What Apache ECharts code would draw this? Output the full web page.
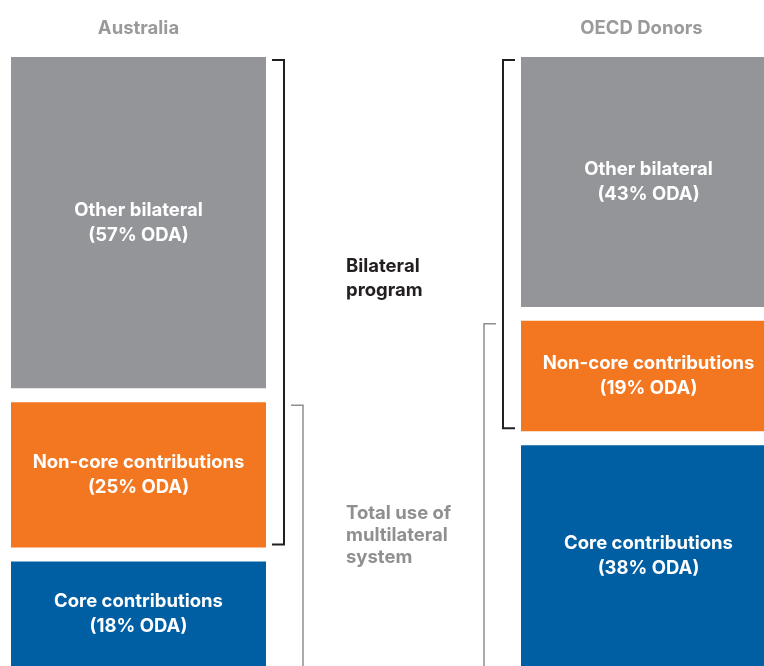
<!DOCTYPE html>
<html>
<head>
<meta charset="utf-8">
<script src="https://cdn.jsdelivr.net/npm/echarts@6/dist/echarts.min.js"></script>
<style>
  html, body { margin: 0; padding: 0; background: #fff; }
  #chart { width: 764px; height: 666px; }
</style>
</head>
<body>
<div id="chart"></div>
<script>
// 数据
const columns = ['Australia', '', 'OECD Donors'];
const segments = ['Other bilateral', 'Non-core contributions', 'Core contributions'];
const australiaShare = [57, 25, 18];
const oecdShare = [43, 19, 38];
const segColors = ['#939598', '#f37721', '#005ea2'];

const GAP = 2.4; // 段与段之间的白色间隔（按百分比单位）
const FONT = 'Inter, "Liberation Sans", Arial, sans-serif';
const FS = 18.5;

// 逐段累加，得到每段的起止位置
function buildStack(colIdx, shares) {
    let pos = 0;
    return shares.map((v, i) => {
        const item = [colIdx, pos, pos + v, v, i];
        pos += v + GAP;
        return item;
    });
}

const ausStack = buildStack(0, australiaShare);
const oecdStack = buildStack(2, oecdShare);

// 括号：[列, 起点, 终点, 类型 0=bilateral 1=multilateral]
const bracketData = [
    [0, ausStack[0][1], ausStack[1][2], 0],
    [2, oecdStack[0][1], oecdStack[1][2], 0],
    [0, ausStack[1][1], ausStack[2][2], 1],
    [2, oecdStack[1][1], oecdStack[2][2], 1]
];

const chart = echarts.init(document.getElementById('chart'));

function renderSegment(params, api) {
    const col = api.value(0);
    const band = api.size([1, 0])[0];
    const cx = api.coord([col, 0])[0];
    const y0 = api.coord([col, api.value(1)])[1];
    const y1 = api.coord([col, api.value(2)])[1];
    const seg = api.value(4);
    return {
        type: 'rect',
        shape: { x: cx - band / 2, y: y0, width: band, height: y1 - y0 },
        style: { fill: segColors[seg] },
        textContent: {
            style: {
                text: segments[seg] + '\n(' + api.value(3) + '% ODA)',
                fill: '#fff',
                font: 'bold ' + FS + 'px ' + FONT,
                lineHeight: 25,
                align: 'center'
            }
        },
        textConfig: { position: 'inside' }
    };
}

function renderBracket(params, api) {
    const col = api.value(0);
    const kind = api.value(3);
    const band = api.size([1, 0])[0];
    const cx = api.coord([col, 0])[0];
    const side = col === 0 ? 1 : -1;
    const edge = cx + side * band / 2;
    const xV = edge + side * (kind === 0 ? 18 : 37);
    const xT = xV - side * 12;
    const yT = api.coord([col, api.value(1)])[1] + 3;
    const yB = api.coord([col, api.value(2)])[1] - 3;
    const points = kind === 0
        ? [[xT, yT], [xV, yT], [xV, yB], [xT, yB]]
        : [[xT, yT], [xV, yT], [xV, yB + 12]];
    return {
        type: 'polyline',
        shape: { points: points },
        style: {
            stroke: kind === 0 ? '#231f20' : '#8f8f8f',
            lineWidth: kind === 0 ? 2 : 1.5,
            fill: null
        }
    };
}

const option = {
    backgroundColor: '#fff',
    animation: false,
    grid: { top: 57, left: 11, width: 765, height: 609, outerBoundsMode: 'none' },
    xAxis: {
        type: 'category',
        data: columns,
        position: 'top',
        axisLine: { show: false },
        axisTick: { show: false },
        axisLabel: {
            color: '#9a9a9a',
            fontSize: FS,
            fontWeight: 'bold',
            fontFamily: FONT,
            margin: 19,
            formatter: function(val) {
                return val === 'OECD Donors' ? '{r|' + val + '}' : val;
            },
            rich: {
                r: {
                    color: '#9a9a9a',
                    fontSize: FS,
                    fontWeight: 'bold',
                    fontFamily: FONT,
                    padding: [0, 14, 0, 0]
                }
            }
        },
        splitLine: { show: false }
    },
    yAxis: {
        type: 'value',
        inverse: true,
        min: 0,
        max: 100 + 2 * GAP,
        show: false
    },
    series: [
        {
            type: 'custom',
            renderItem: renderSegment,
            data: ausStack.concat(oecdStack),
            clip: false
        },
        {
            type: 'custom',
            renderItem: renderBracket,
            data: bracketData,
            clip: false
        }
    ],
    graphic: [
        {
            type: 'text',
            left: 346,
            top: 254,
            style: {
                text: 'Bilateral\nprogram',
                fill: '#231f20',
                font: 'bold ' + FS + 'px ' + FONT,
                lineHeight: 24
            }
        },
        {
            type: 'text',
            left: 346,
            top: 502,
            style: {
                text: 'Total use of\nmultilateral\nsystem',
                fill: '#8f8f8f',
                font: 'bold ' + FS + 'px ' + FONT,
                lineHeight: 22
            }
        }
    ]
};

chart.setOption(option);
</script>
</body>
</html>
